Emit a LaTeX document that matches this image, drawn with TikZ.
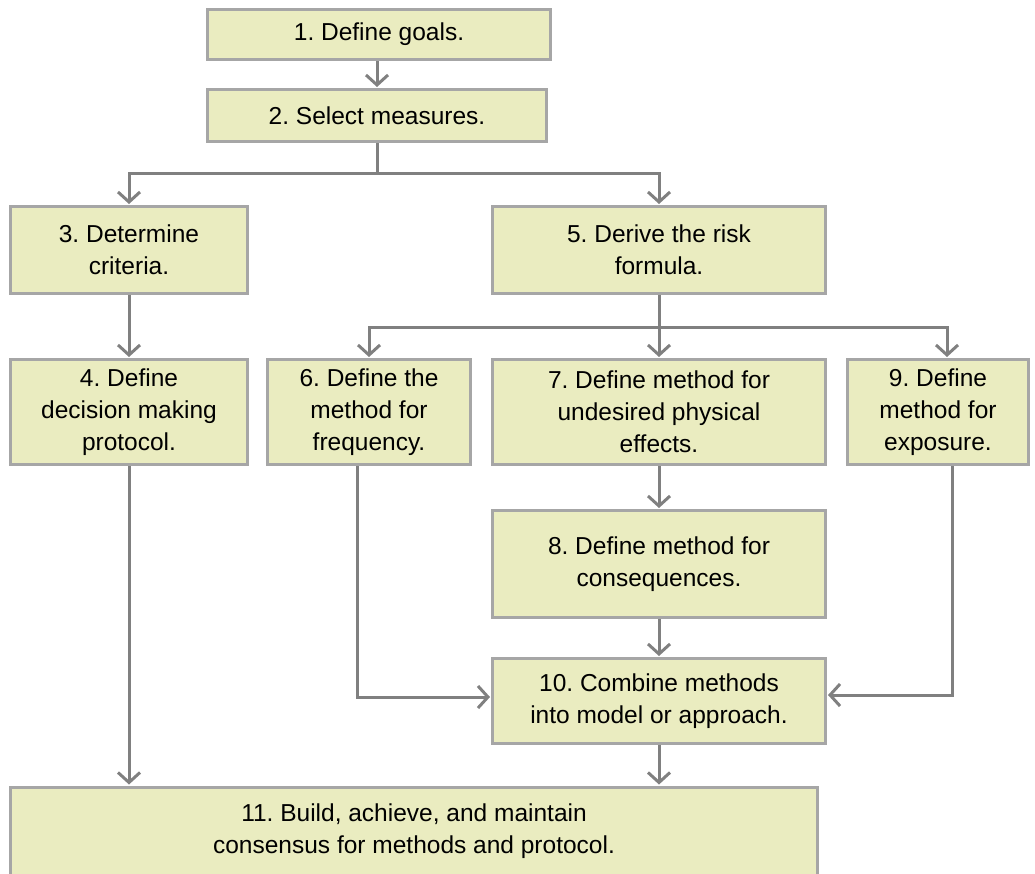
\documentclass[tikz,border=0pt]{standalone}
\usepackage{fontspec}
\setmainfont{Liberation Sans}
\usetikzlibrary{arrows.meta}
\definecolor{boxfill}{RGB}{234,236,192}
\definecolor{boxline}{RGB}{166,166,166}
\definecolor{connline}{RGB}{128,128,128}
\tikzset{
  stepbox/.style={draw=boxline, fill=boxfill, line width=3pt, rectangle, align=center,
    inner sep=0pt, font=\frenchspacing\fontsize{24.5}{32}\selectfont},
  conn/.style={draw=connline, line width=3pt},
  arr/.style={conn, -{Straight Barb[length=10pt,width=22pt,line width=3pt]}, shorten >=1pt},
}
\begin{document}
\begin{tikzpicture}[x=1pt,y=-1pt]
\useasboundingbox (0,0) rectangle (1035,873);
% boxes
\node[stepbox, minimum width=343pt, minimum height=50pt] (b1) at (379,34.5) {1. Define goals.};
\node[stepbox, minimum width=339pt, minimum height=52pt] (b2) at (377,115.5) {2. Select measures.};
\node[stepbox, minimum width=237pt, minimum height=87pt] (b3) at (129,250) {3. Determine\\criteria.};
\node[stepbox, minimum width=333pt, minimum height=87pt] (b5) at (659,250) {5. Derive the risk\\formula.};
\node[stepbox, minimum width=237pt, minimum height=105pt] (b4) at (129,412) {4. Define\\decision making\\protocol.};
\node[stepbox, minimum width=203pt, minimum height=105pt] (b6) at (369,412) {6. Define the\\method for\\frequency.};
\node[stepbox, minimum width=333pt, minimum height=105pt] (b7) at (659,412) {7. Define method for\\undesired physical\\effects.};
\node[stepbox, minimum width=181pt, minimum height=105pt] (b9) at (938,412) {9. Define\\method for\\exposure.};
\node[stepbox, minimum width=333pt, minimum height=107pt] (b8) at (659,564) {8. Define method for\\consequences.};
\node[stepbox, minimum width=333pt, minimum height=85pt] (b10) at (659,701) {10. Combine methods\\into model or approach.};
\node[stepbox, minimum width=807pt, minimum height=88pt] (b11) at (414,831) {11. Build, achieve, and maintain\\consensus for methods and protocol.};
% connectors
\draw[arr] (b1.south -| b2.north) -- (b2.north);
\draw[conn] (b2.south) -- ++(0,30) coordinate (j1);
\draw[arr] ([xshift=-1.5pt]j1) -| (b3.north);
\draw[arr] ([xshift=-1.5pt]j1) -| (b5.north);
\draw[conn] (b5.south) -- ++(0,32) coordinate (j2);
\draw[arr] (j2) -| (b6.north);
\draw[arr] (j2) -- (b7.north);
\draw[arr] (j2) -| ([xshift=9pt]b9.north);
\draw[arr] (b3.south) -- (b4.north);
\draw[arr] (b7.south) -- (b8.north);
\draw[arr] (b8.south) -- (b10.north);
\draw[arr] ([xshift=-12pt]b6.south) |- ([yshift=4pt]b10.west);
\draw[arr] ([xshift=14pt]b9.south) |- ([yshift=6pt]b10.east);
\draw[arr] (b4.south) -- (b4.south |- b11.north);
\draw[arr] (b10.south) -- (b10.south |- b11.north);
\end{tikzpicture}
\end{document}
